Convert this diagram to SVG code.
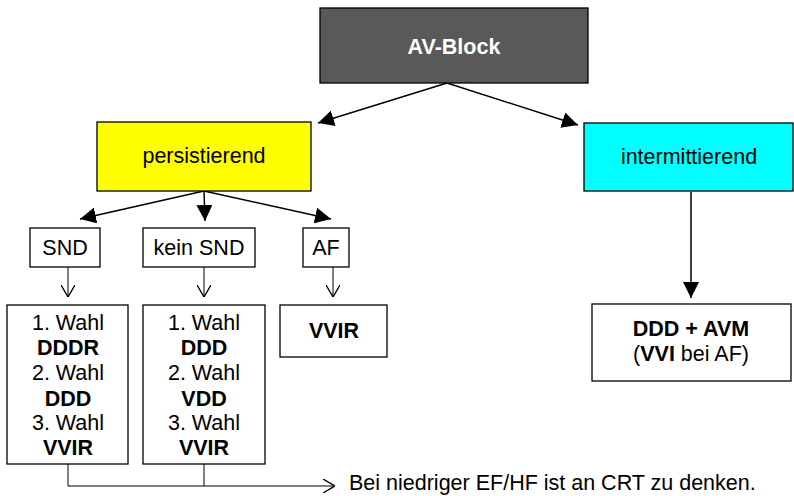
<svg xmlns="http://www.w3.org/2000/svg" width="794" height="496" viewBox="0 0 794 496">
<defs>
<marker id="big" viewBox="0 0 10 10" refX="10" refY="5" markerWidth="16" markerHeight="16" markerUnits="userSpaceOnUse" orient="auto">
<path d="M0,0 L10,5 L0,10 z" fill="#000"/>
</marker>
<marker id="open" viewBox="0 0 10 10" refX="10" refY="5" markerWidth="12" markerHeight="14" markerUnits="userSpaceOnUse" orient="auto" preserveAspectRatio="none">
<path d="M0,0 L10,5 L0,10" fill="none" stroke="#000" stroke-width="1"/>
</marker>
</defs>
<style>
text{font-family:"Liberation Sans",Arial,sans-serif;font-size:21.5px;fill:#000;text-anchor:middle}
.b{font-weight:bold}
rect{stroke:#000;stroke-width:1.3}
.w{fill:#fff}
.c{stroke:#000;stroke-width:1.5;fill:none}
.t{stroke:#000;stroke-width:1;fill:none}
</style>
<g id="connectors">
<line class="c" x1="447" y1="83" x2="318" y2="123" marker-end="url(#big)"/>
<line class="c" x1="447" y1="83" x2="578" y2="125" marker-end="url(#big)"/>
<line class="c" x1="204" y1="191" x2="80" y2="219" marker-end="url(#big)"/>
<line class="c" x1="204" y1="191" x2="205" y2="221" marker-end="url(#big)"/>
<line class="c" x1="204" y1="191" x2="331" y2="219" marker-end="url(#big)"/>
<line class="c" x1="691" y1="192" x2="691" y2="298" marker-end="url(#big)"/>
<line class="t" x1="68" y1="267" x2="68" y2="297" marker-end="url(#open)"/>
<line class="t" x1="204" y1="267" x2="204" y2="297" marker-end="url(#open)"/>
<line class="t" x1="333" y1="267" x2="333" y2="297" marker-end="url(#open)"/>
<polyline class="t" points="68,464 68,486 335,486" marker-end="url(#open)"/>
<line class="t" x1="204" y1="464" x2="204" y2="486"/>
</g>
<g id="av-block">
<rect x="320" y="8" width="268" height="75" fill="#595959" stroke="none"/>
<text x="454" y="54" class="b" style="fill:#fff">AV-Block</text>
</g>
<g id="persistierend">
<rect x="97" y="122" width="214" height="69" fill="#ffff00"/>
<text x="204" y="163">persistierend</text>
</g>
<g id="intermittierend">
<rect x="584" y="123" width="209" height="68" fill="#00ffff"/>
<text x="689" y="164">intermittierend</text>
</g>
<g id="snd">
<rect class="w" x="30" y="228" width="70" height="39"/>
<text x="65" y="255">SND</text>
</g>
<g id="kein-snd">
<rect class="w" x="143" y="228" width="112" height="39"/>
<text x="199" y="255">kein SND</text>
</g>
<g id="af">
<rect class="w" x="303" y="228" width="46" height="39"/>
<text x="326" y="255">AF</text>
</g>
<g id="snd-wahl">
<rect class="w" x="7" y="305" width="121" height="159"/>
<text x="68" y="330">1. Wahl</text>
<text x="68" y="355" class="b">DDDR</text>
<text x="68" y="380">2. Wahl</text>
<text x="68" y="406" class="b">DDD</text>
<text x="68" y="430">3. Wahl</text>
<text x="68" y="455" class="b">VVIR</text>
</g>
<g id="kein-snd-wahl">
<rect class="w" x="143" y="305" width="122" height="159"/>
<text x="204" y="330">1. Wahl</text>
<text x="204" y="355" class="b">DDD</text>
<text x="204" y="380">2. Wahl</text>
<text x="204" y="406" class="b">VDD</text>
<text x="204" y="430">3. Wahl</text>
<text x="204" y="455" class="b">VVIR</text>
</g>
<g id="af-wahl">
<rect class="w" x="280" y="305" width="107" height="52"/>
<text x="334" y="338" class="b">VVIR</text>
</g>
<g id="ddd-avm">
<rect class="w" x="592" y="304" width="199" height="77"/>
<text x="691" y="336" class="b">DDD + AVM</text>
<text x="691" y="361">(<tspan class="b">VVI</tspan> bei AF)</text>
</g>
<g id="note">
<text x="349" y="490" style="text-anchor:start">Bei niedriger EF/HF ist an CRT zu denken.</text>
</g>
</svg>
